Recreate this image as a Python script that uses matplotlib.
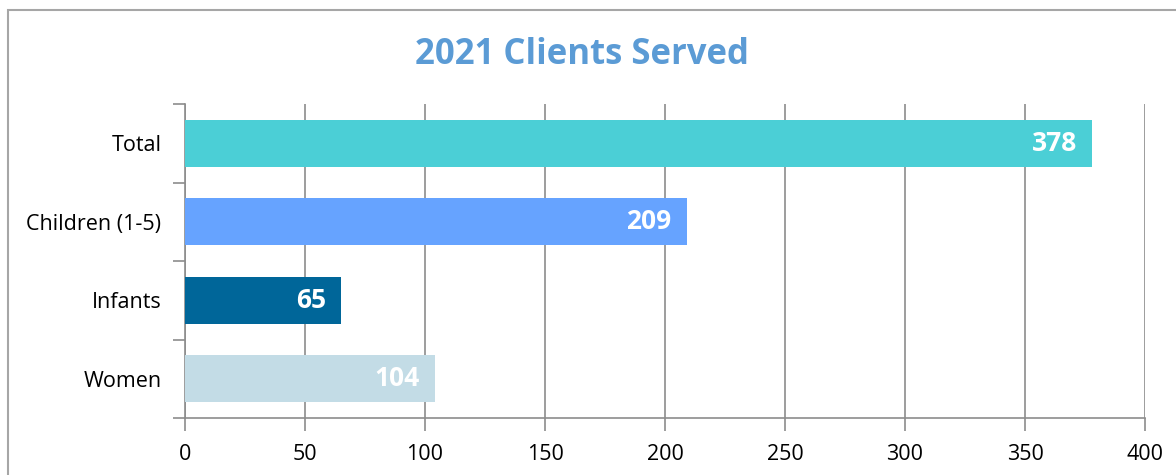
import matplotlib
matplotlib.use("Agg")
import matplotlib.pyplot as plt
from matplotlib.patches import Rectangle

# data, bottom to top as drawn
categories = ["Women", "Infants", "Children (1-5)", "Total"]
clients = [104, 65, 209, 378]
bar_colors = ["#C3DCE6", "#006699", "#66A3FF", "#4BCFD6"]
x_ticks = [0, 50, 100, 150, 200, 250, 300, 350, 400]

plt.rcParams['font.family'] = ['Open Sans', 'DejaVu Sans']
grid_col = "#8C8C8C"

fig = plt.figure(figsize=(11.76, 4.75), dpi=100)
fig.patches.append(Rectangle((8 / 1176, -0.1), 1.2, 1 - 10 / 475 + 0.1, transform=fig.transFigure,
                             fill=False, edgecolor="#A6A6A6", linewidth=1.5))

ax = fig.add_axes([185 / 1176, 57 / 475, 960 / 1176, 314 / 475])
ypos = list(range(len(categories)))
bars = ax.barh(ypos, clients, height=0.6, color=bar_colors, zorder=3)

for rect, val in zip(bars, clients):
    ax.text(rect.get_width() - 400 * 15 / 960, rect.get_y() + rect.get_height() / 2, str(val),
            ha="right", va="center", color="white", fontsize=19, fontweight="bold", zorder=4)

ax.set_xlim(0, 400)
ax.set_ylim(-0.5, len(categories) - 0.5)
ax.set_xticks(x_ticks)
ax.set_yticks(ypos)
ax.set_yticklabels(categories)
ax.set_yticks([i - 0.5 for i in range(len(categories) + 1)], minor=True)
ax.tick_params(axis="y", which="major", length=0, pad=17, labelsize=15.5)
ax.tick_params(axis="y", which="minor", length=9, width=1.2, color=grid_col)
ax.tick_params(axis="x", length=9, width=1.2, color=grid_col, labelsize=15.5, pad=10)

ax.grid(axis="x", color=grid_col, linewidth=1.2, zorder=0)
for s in ["top", "right"]:
    ax.spines[s].set_visible(False)
for s in ["left", "bottom"]:
    ax.spines[s].set_color(grid_col)
    ax.spines[s].set_linewidth(1.2)

fig.text(0.4945, 0.884, "2021 Clients Served", ha="center", va="center",
         fontsize=25, fontweight="bold", color="#5B9BD5")

fig.savefig("out.png", dpi=100)
